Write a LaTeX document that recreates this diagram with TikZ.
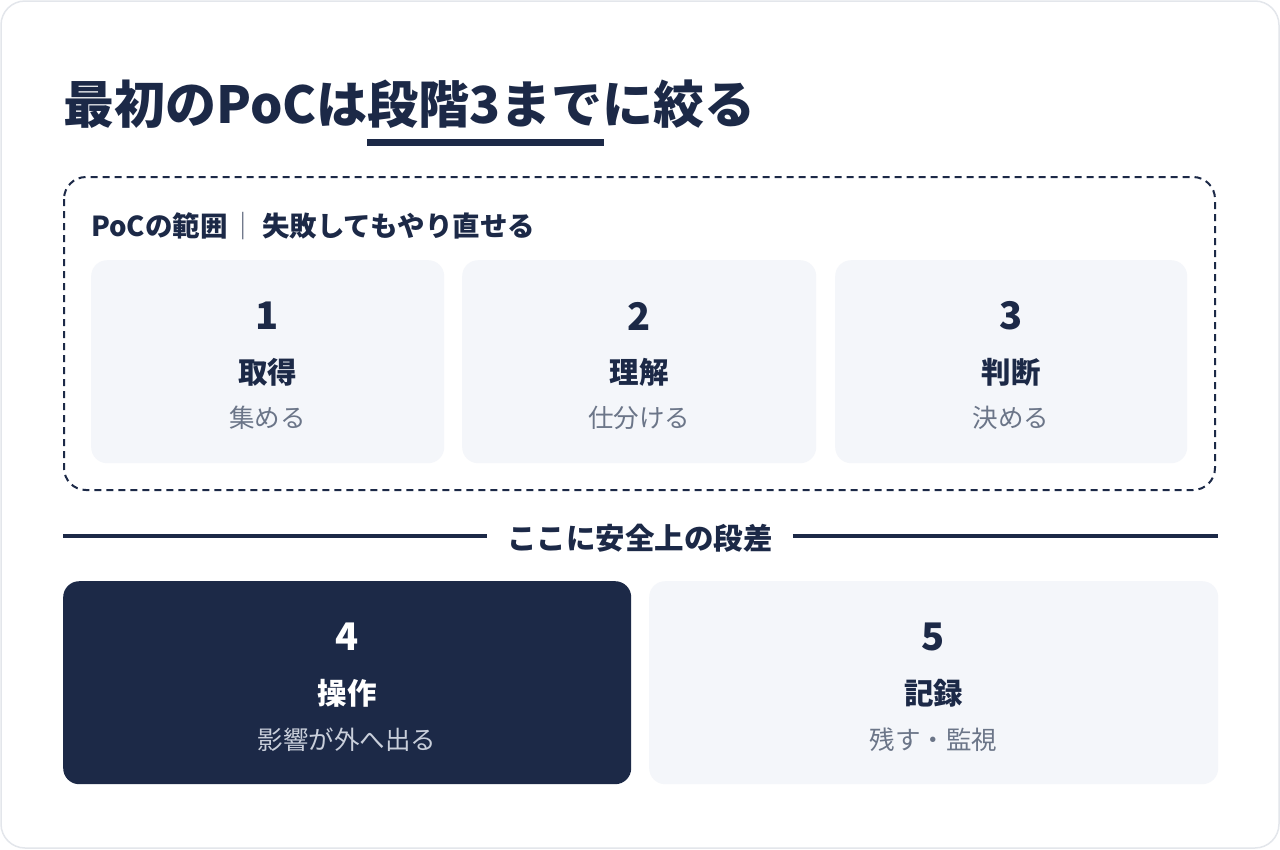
\documentclass[tikz,border=0pt]{standalone}
\usepackage{fontspec}
\setmainfont{Noto Sans CJK JP}
\definecolor{navy}{HTML}{1C2947}
\definecolor{cardbg}{HTML}{F4F6FA}
\definecolor{grayt}{HTML}{6B7588}
\definecolor{lightt}{HTML}{C9CFDB}
\definecolor{frame}{HTML}{E3E6EB}
\tikzset{
  card/.style={fill=cardbg, draw=none, rounded corners=16pt, inner sep=0pt, anchor=north west},
  darkcard/.style={card, fill=navy},
  num/.style={font=\bfseries\fontsize{38}{40}\selectfont, text=navy, inner sep=0pt},
  ttl/.style={font=\bfseries\fontsize{29.5}{32}\selectfont, text=navy, inner sep=0pt},
  sub/.style={font=\fontsize{25.5}{28}\selectfont, text=grayt, inner sep=0pt},
  rule/.style={draw=navy, line width=4pt},
}
\begin{document}
\begin{tikzpicture}[x=1pt,y=-1pt]
\useasboundingbox (0,0) rectangle (1280,849);
\draw[draw=frame, line width=1.5pt, fill=white, rounded corners=24pt] (1,1) rectangle (1279,848);

% title
\node[anchor=west, inner sep=0pt, text=navy, font=\bfseries\fontsize{51}{56}\selectfont] (title) at (63,104) {最初のPoCは段階3までに絞る};
\coordinate (ul1) at (367,142.5);
\coordinate (ul2) at (604,142.5);
\draw[draw=navy, line width=7pt] (ul1) -- (ul2);

% dashed scope
\draw[draw=navy, line width=2pt, dash pattern=on 7pt off 5pt, rounded corners=22pt] (64,177) rectangle (1215,490);
\node[anchor=west, inner sep=0pt, text=navy, font=\bfseries\fontsize{27.5}{30}\selectfont] (scope) at (91,226)
  {PoCの範囲\kern2pt{\mdseries\textcolor{navy!75}{｜}}\kern5pt 失敗してもやり直せる};

% cards 1-3
\node[card, minimum width=353pt, minimum height=203pt] (c1) at (91,260) {};
\node[card, minimum width=354pt, minimum height=203pt] (c2) at (462,260) {};
\node[card, minimum width=352pt, minimum height=203pt] (c3) at (835,260) {};

\node[num] (n1) at (267.5,316) {1};
\node[ttl] (t1) at (267.5,372) {取得};
\node[sub] (s1) at (267.5,418) {集める};

\node[num] (n2) at (639,316) {2};
\node[ttl] (t2) at (639,372) {理解};
\node[sub] (s2) at (639,418) {仕分ける};

\node[num] (n3) at (1011,316) {3};
\node[ttl] (t3) at (1011,372) {判断};
\node[sub] (s3) at (1011,418) {決める};

% divider
\node[inner sep=0pt, inner xsep=20pt, text=navy, font=\bfseries\fontsize{29.5}{32}\selectfont] (gap) at (640,538) {ここに安全上の段差};
\coordinate (dl) at (63,536);
\coordinate (dr) at (1218,536);
\draw[rule] (dl) -- (dl -| gap.west);
\draw[rule] (dr -| gap.east) -- (dr);

% cards 4-5
\node[darkcard, minimum width=568pt, minimum height=203pt] (c4) at (63,581) {};
\node[card, minimum width=569pt, minimum height=203pt] (c5) at (649,581) {};

\node[num, text=white] (n4) at (347,637) {4};
\node[ttl, text=white] (t4) at (347,693) {操作};
\node[sub, text=lightt] (s4) at (347,740) {影響が外へ出る};

\node[num] (n5) at (933.5,637) {5};
\node[ttl] (t5) at (933.5,693) {記録};
\node[sub] (s5) at (933.5,740) {残す・監視};
\end{tikzpicture}
\end{document}
